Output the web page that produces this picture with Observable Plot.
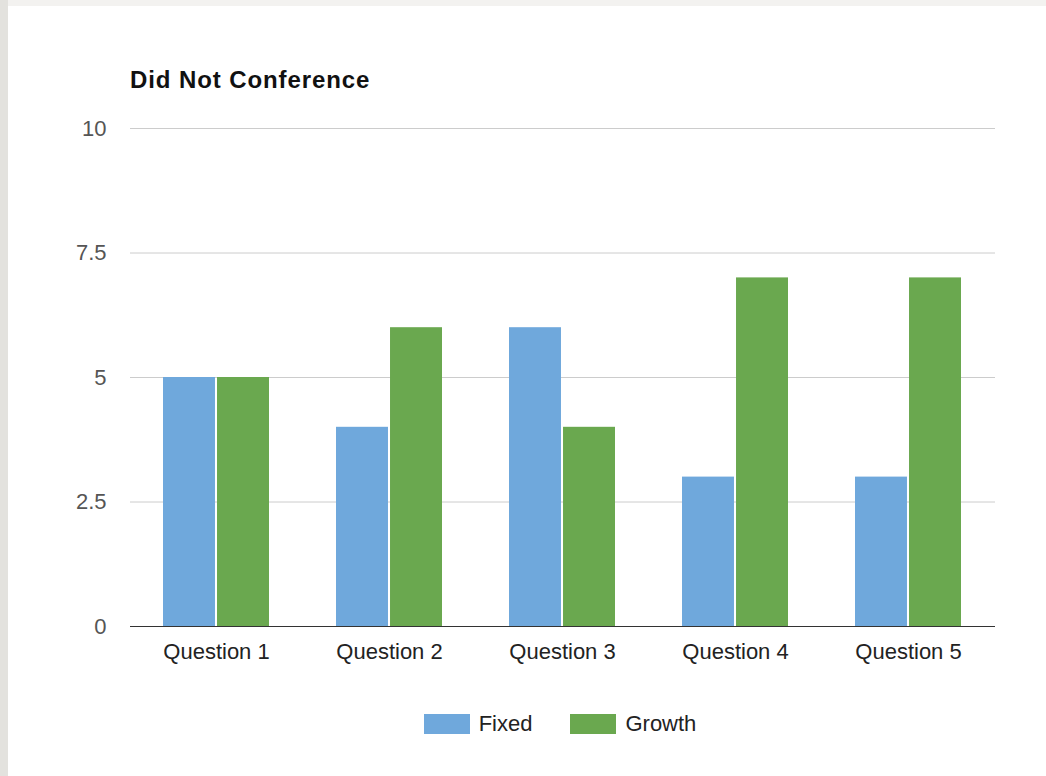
<!DOCTYPE html>
<html>
<head>
<meta charset="utf-8">
<script src="https://cdn.jsdelivr.net/npm/d3@7"></script>
<script src="https://cdn.jsdelivr.net/npm/@observablehq/plot@0.6"></script>
<style>
  html, body { margin: 0; padding: 0; }
  body { width: 1046px; height: 776px; background: #e3e2de; position: relative; overflow: hidden;
         font-family: "Liberation Sans", Arial, Helvetica, sans-serif; }
  #panel { position: absolute; left: 8px; top: 6px; width: 1038px; height: 770px; background: #fff; }
  #topstrip { position: absolute; left: 8px; top: 0; width: 1038px; height: 6px; background: #f3f2f0; }
  #title { position: absolute; left: 130px; top: 66px; font-size: 24px; line-height: 28px; font-weight: bold; color: #111; letter-spacing: 0.9px; white-space: nowrap; }
  #chart { position: absolute; left: 0; top: 0; }
  #legend { position: absolute; left: 0; top: 711px; width: 1046px; display: flex; justify-content: center; padding-left: 74px; box-sizing: border-box; font-size: 22px; color: #222; }
  .item { display: flex; align-items: center; margin: 0 19px; }
  .sw { width: 46px; height: 20px; margin-right: 9px; }
</style>
</head>
<body>
<div id="topstrip"></div>
<div id="panel"></div>
<div id="title">Did Not Conference</div>
<div id="chart"></div>
<div id="legend"></div>
<script>
const questions = ["Question 1", "Question 2", "Question 3", "Question 4", "Question 5"];
const seriesNames = ["Fixed", "Growth"];
const fixedValues = [5, 4, 6, 3, 3];
const growthValues = [5, 6, 4, 7, 7];
const yTicks = [0, 2.5, 5, 7.5, 10];
const yTickLabels = ["0", "2.5", "5", "7.5", "10"];
const colors = ["#6fa8dc", "#6aa84f"];

const data = [];
questions.forEach((q, i) => {
  data.push({question: q, series: seriesNames[0], value: fixedValues[i]});
  data.push({question: q, series: seriesNames[1], value: growthValues[i]});
});

const W = 1046, mL = 130, mR = 51;
const padInner = 0.387;
const bw = (W - mL - mR) / questions.length * (1 - padInner);

const chart = Plot.plot({
  width: W,
  height: 680,
  marginTop: 128,
  marginLeft: mL,
  marginRight: mR,
  marginBottom: 54,
  style: {fontFamily: '"Liberation Sans", Arial, Helvetica, sans-serif', background: "transparent", overflow: "visible"},
  x: {domain: questions, paddingInner: padInner, paddingOuter: padInner / 2, align: 0.5, label: null},
  y: {domain: [0, 10], label: null},
  marks: [
    Plot.gridY(yTicks.slice(1), {stroke: "#cccccc", strokeOpacity: 1, strokeWidth: 1}),
    Plot.barY(data.filter(d => d.series === seriesNames[0]), {x: "question", y: "value", fill: colors[0], insetLeft: 0, insetRight: bw / 2 + 1}),
    Plot.barY(data.filter(d => d.series === seriesNames[1]), {x: "question", y: "value", fill: colors[1], insetLeft: bw / 2 + 1, insetRight: 0}),
    Plot.ruleY([0], {stroke: "#333333", strokeWidth: 1}),
    Plot.axisY({ticks: yTicks, tickFormat: (d) => yTickLabels[yTicks.indexOf(d)], tickSize: 0, tickPadding: 24, fontSize: 22, fill: "#555555", label: null}),
    Plot.axisX({tickSize: 0, tickPadding: 17, fontSize: 22, fill: "#222222", label: null})
  ]
});
document.getElementById("chart").appendChild(chart);

const legend = document.getElementById("legend");
seriesNames.forEach((s, i) => {
  const item = document.createElement("div");
  item.className = "item";
  const sw = document.createElement("div");
  sw.className = "sw";
  sw.style.background = colors[i];
  const t = document.createElement("span");
  t.textContent = s;
  item.appendChild(sw);
  item.appendChild(t);
  legend.appendChild(item);
});
</script>
</body>
</html>
